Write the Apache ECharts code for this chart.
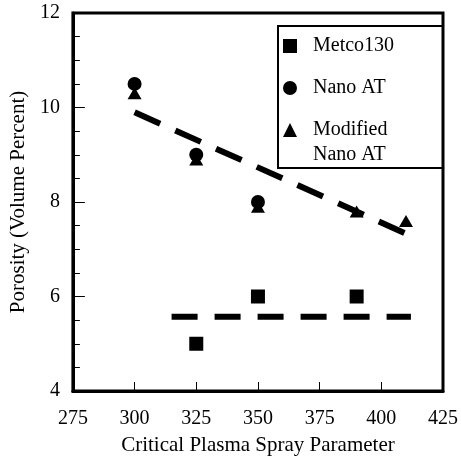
<!DOCTYPE html>
<html><head><meta charset="utf-8">
<script src="https://cdn.jsdelivr.net/npm/echarts@6/dist/echarts.min.js"></script>
<style>html,body{margin:0;padding:0;background:#fff}#c{width:461px;height:461px}</style>
</head><body><div id="c"></div>
<script>
const xTicks = [275, 300, 325, 350, 375, 400, 425];
const yTicks = [4, 6, 8, 10, 12];
const metcoX = [325, 350, 390];
const metcoY = [5.0, 6.0, 6.0];
const nanoX = [300, 325, 350];
const nanoY = [10.5, 9.0, 8.0];
const modX = [300, 325, 350, 390, 410];
const modY = [10.3, 8.9, 7.9, 7.8, 7.6];
const upperX = [300, 413];
const upperY = [9.9, 7.26];
const lowerX = [315, 412];
const lowerY = [5.57, 5.57];
const seriesNames = ['Metco130', 'Nano AT', 'Modified Nano AT'];

const pairs = (xs, ys) => xs.map((x, i) => [x, ys[i]]);
const FONT = 'Liberation Serif';
const chart = echarts.init(document.getElementById('c'), null, {renderer: 'canvas'});
const solid = {color: '#000', opacity: 1};
chart.setOption({
  animation: false,
  backgroundColor: '#fff',
  textStyle: {fontFamily: FONT, color: '#000'},
  grid: {left: 65, right: 15, top: 13, bottom: 66, show: true, borderColor: '#000', borderWidth: 3, backgroundColor: 'transparent'},
  xAxis: {
    type: 'value', min: xTicks[0], max: xTicks[xTicks.length - 1], interval: 25,
    name: 'Critical Plasma Spray Parameter', nameLocation: 'middle', nameGap: 44,
    nameTextStyle: {fontFamily: FONT, fontSize: 21, color: '#000'},
    axisLine: {show: true, lineStyle: {color: '#000', width: 3}},
    axisTick: {show: true, inside: true, length: 9, lineStyle: {color: '#000', width: 1}},
    axisLabel: {fontFamily: FONT, fontSize: 20, color: '#000', margin: 18},
    splitLine: {show: false}
  },
  yAxis: {
    type: 'value', min: yTicks[0], max: yTicks[yTicks.length - 1], interval: 2,
    name: 'Porosity (Volume Percent)', nameLocation: 'middle', nameGap: 34,
    nameTextStyle: {fontFamily: FONT, fontSize: 21, color: '#000'},
    axisLine: {show: true, lineStyle: {color: '#000', width: 3}},
    axisTick: {show: true, inside: true, length: 12, lineStyle: {color: '#000', width: 1}},
    minorTick: {show: true, splitNumber: 4, length: 7, lineStyle: {color: '#000', width: 1}},
    axisLabel: {fontFamily: FONT, fontSize: 20, color: '#000', margin: 13},
    splitLine: {show: false}
  },
  legend: {
    data: seriesNames, orient: 'vertical', left: 283, top: 36, padding: 0,
    itemWidth: 14, itemHeight: 14, itemGap: 22, selectedMode: false,
    formatter: n => n === 'Modified Nano AT' ? 'Modified' : n,
    itemStyle: {opacity: 1},
    textStyle: {fontFamily: FONT, fontSize: 20, color: '#000', padding: [0, 0, 0, 11]},
    z: 10
  },
  graphic: [
    {type: 'rect', left: 277, top: 25, z: 5, shape: {width: 165, height: 142}, style: {fill: 'transparent', stroke: '#000', lineWidth: 2}},
    {type: 'text', left: 313, top: 145, z: 11, style: {text: 'Nano AT', font: '20px "Liberation Serif"', fill: '#000'}}
  ],
  series: [
    {type: 'line', data: pairs(upperX, upperY), showSymbol: false, symbol: 'none', silent: true,
     lineStyle: {color: '#000', width: 6, type: [28, 16.6], cap: 'butt'}, z: 1},
    {type: 'line', data: pairs(lowerX, lowerY), showSymbol: false, symbol: 'none', silent: true,
     lineStyle: {color: '#000', width: 6, type: [26, 17], cap: 'butt'}, z: 1},
    {name: seriesNames[0], type: 'scatter', symbol: 'rect', symbolSize: 14, data: pairs(metcoX, metcoY), itemStyle: solid, z: 3},
    {name: seriesNames[2], type: 'scatter', symbol: 'triangle', symbolSize: [14, 12], data: pairs(modX, modY), itemStyle: solid, z: 3},
    {name: seriesNames[1], type: 'scatter', symbol: 'circle', symbolSize: 14, data: pairs(nanoX, nanoY), itemStyle: solid, z: 4}
  ]
});
</script></body></html>
